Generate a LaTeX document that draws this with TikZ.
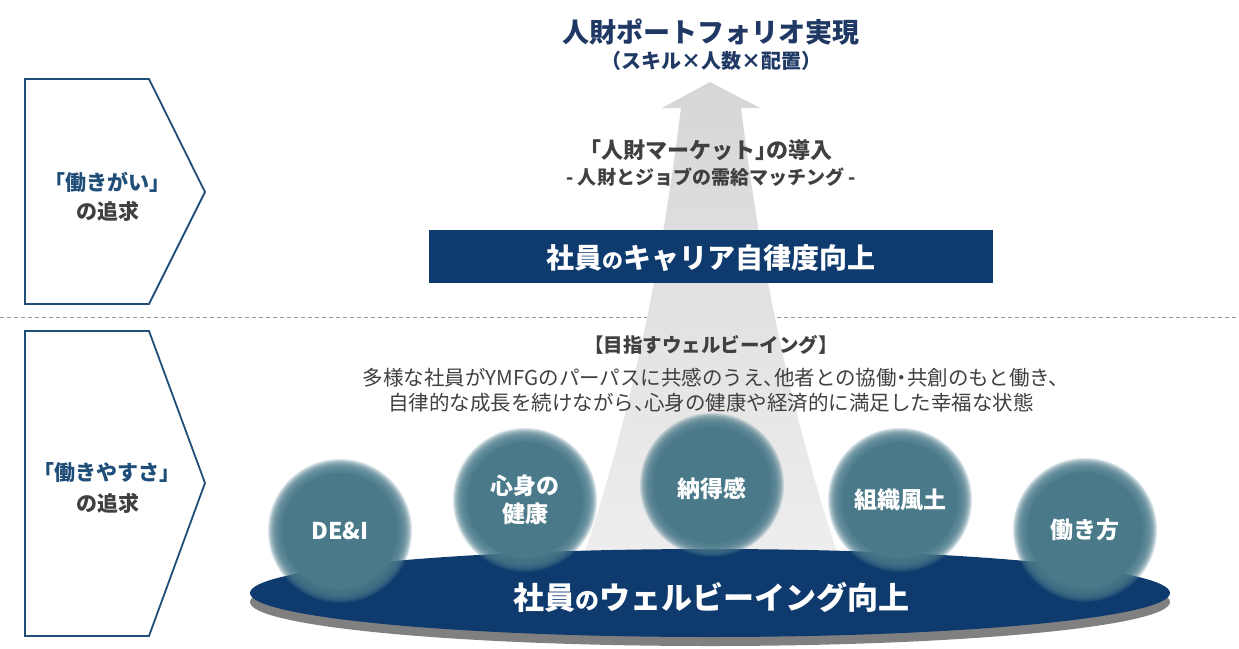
\documentclass[tikz,border=0pt]{standalone}
\usepackage{fontspec}
\setmainfont{Noto Sans CJK JP}
\usepackage{xcolor}
\usepackage{tikz}
\usetikzlibrary{shapes,arrows,positioning}

\definecolor{navy}{HTML}{0E3A6E}
\definecolor{penblue}{HTML}{1F4E79}
\definecolor{titleblue}{HTML}{1F3864}
\definecolor{darktxt}{HTML}{404040}
\definecolor{bubble}{HTML}{4A7A8A}
\definecolor{rim}{HTML}{808080}

\newcommand{\fsz}[2]{\fontsize{#1}{#2}\selectfont}
\newcommand{\tightpunct}{\addfontfeatures{RawFeature=+halt}}

\tikzset{
  pent/.style={draw=penblue, line width=1.8pt, fill=white},
  bubbletxt/.style={text=white, font=\bfseries\fsz{23}{28}, align=center, inner sep=0pt},
  body/.style={text=darktxt, align=center}
}

% soft-edged disc: thin translucent layers over a solid core
\newcommand{\bubbledisc}[1]{%
  \foreach \r in {72,71,...,59}
    \fill[bubble, opacity=0.2] (#1) circle (\r);
  \fill[bubble] (#1) circle (58);
}

\begin{document}
\begin{tikzpicture}[x=1pt, y=-1pt]
        \useasboundingbox (0,0) rectangle (1239,648);

        % separator
        \draw[gray!80, line width=1pt, dash pattern=on 4pt off 3pt] (0,317) -- (1239,317);

        % rising arrow
        \shade[top color=black!16, bottom color=black!6]
          (710,82) -- (760,108) -- (741,108)
          .. controls (760,260) and (790,420) .. (850,590)
          -- (572,590)
          .. controls (632,420) and (662,260) .. (681,108)
          -- (662,108) -- cycle;

        % left pentagons
        \draw[pent] (25,79) -- (149,79) -- (205,192) -- (149,304) -- (25,304) -- cycle;
        \draw[pent] (25,331) -- (149,331) -- (205,483) -- (149,636) -- (25,636) -- cycle;

        \node[text=penblue, font=\bfseries\fsz{21}{25}] (gaiA) at (107,182) {「働きがい」};
        \node[text=darktxt, font=\bfseries\fsz{21}{25}] (gaiB) at (108,211) {の追求};
        \node[text=penblue, font=\bfseries\fsz{21}{25}] (yasuA) at (107,473) {「働きやすさ」};
        \node[text=darktxt, font=\bfseries\fsz{21}{25}] (yasuB) at (108,503) {の追求};

        % top goal
        \node[text=titleblue, font=\bfseries\fsz{27}{32}] (goal) at (711,32) {人財ポートフォリオ実現};
        \node[text=titleblue, font=\bfseries\fsz{20}{24}] (goalsub) at (711,61) {（スキル×人数×配置）};

        \node[body, font=\bfseries\fsz{22}{26}\tightpunct] (market) at (711,150) {「人財マーケット」の導入};
        \node[body, font=\bfseries\fsz{19}{23}] (matching) at (711,177) {- 人財とジョブの需給マッチング -};

        % career bar
        \fill[navy] (429,230) rectangle (993,283);
        \node[text=white, font=\bfseries\fsz{28}{32}] (career) at (711,258) {社員{\fsz{21}{24}の}キャリア自律度向上};

        % well-being text
        \node[body, font=\bfseries\fsz{19.5}{23}] (aim) at (711,345) {【目指すウェルビーイング】};
        \node[body, font=\fsz{20.5}{25}\tightpunct] (aimtext) at (711,390)
          {多様な社員がYMFGのパーパスに共感のうえ、他者との協働・共創のもと働き、\\
           自律的な成長を続けながら、心身の健康や経済的に満足した幸福な状態};

        % base disc
        \fill[rim] (710,602) ellipse (460 and 44);
        \fill[navy] (710,593) ellipse (460 and 44);

        % bubbles
        \coordinate (deiC) at (340,531);
        \coordinate (healthC) at (525,500);
        \coordinate (acceptC) at (712,485);
        \coordinate (cultureC) at (900,500);
        \coordinate (styleC) at (1085,530);
        \foreach \c in {deiC,healthC,acceptC,cultureC,styleC}
          \bubbledisc{\c};

        \node[bubbletxt] (dei) at (deiC) {DE\&I};
        \node[bubbletxt] (health) at (healthC) {心身の\\健康};
        \node[bubbletxt] (accept) at ([yshift=-4pt]acceptC) {納得感};
        \node[bubbletxt] (culture) at (cultureC) {組織風土};
        \node[bubbletxt] (style) at (styleC) {働き方};

        \node[text=white, font=\bfseries\fsz{31}{36}] (wellbeing) at (711,597) {社員{\fsz{24}{28}の}ウェルビーイング向上};
    \end{tikzpicture}
\end{document}
